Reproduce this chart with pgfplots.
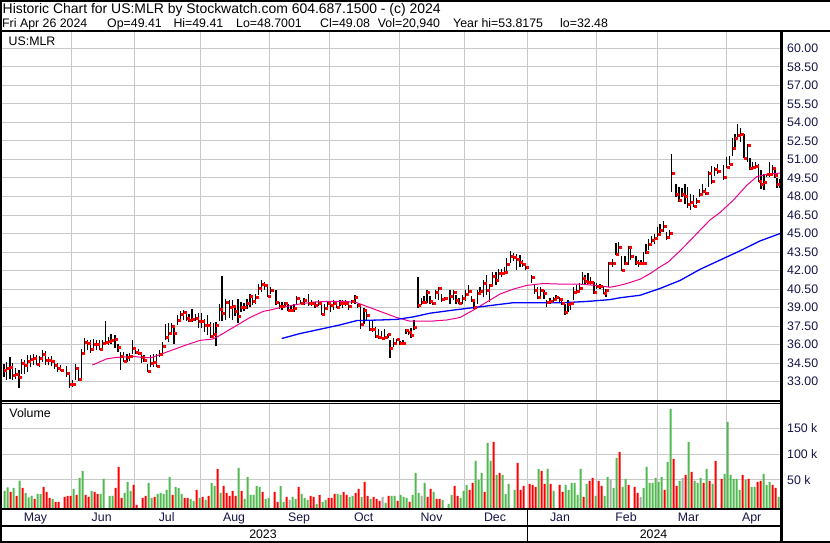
\documentclass[border=0pt]{standalone}
\usepackage{pgfplots}
\pgfplotsset{compat=1.18}
\usepackage{pgfplotstable}
\usepackage{fontspec}
\setmainfont{Liberation Sans}
\definecolor{gridc}{RGB}{200,200,200}
\definecolor{volg}{RGB}{80,185,80}
\definecolor{volr}{RGB}{255,0,0}
\definecolor{volgray}{RGB}{170,170,170}
\definecolor{tickc}{RGB}{20,20,70}
\newcommand\tf{\fontsize{12.4}{14}\selectfont}
\newcommand\hf{\fontsize{14}{16}\selectfont}

\pgfplotstableread{
x h l c
4.0 34.46 33.38 33.97
6.7 34.59 33.16 34.11
10.0 35.00 33.24 34.19
12.7 34.51 33.11 33.51
15.7 34.11 33.24 33.59
19.0 33.92 32.51 33.38
21.7 34.86 33.65 34.51
24.3 34.78 33.65 34.32
27.7 35.13 33.78 34.64
30.7 35.13 34.19 34.86
33.7 35.27 34.32 34.92
36.7 35.13 34.32 34.40
39.7 35.05 34.19 34.94
42.7 35.54 34.59 35.21
45.7 35.46 34.32 34.78
48.7 35.00 34.32 34.73
51.7 35.05 34.24 34.64
54.7 34.73 34.05 34.32
57.7 34.51 33.78 34.11
60.7 34.32 33.85 33.92
66.7 34.24 33.38 33.70
69.3 33.65 32.49 32.78
72.3 33.16 32.57 32.78
75.3 34.40 33.11 34.11
78.7 34.19 33.06 33.20
81.3 35.67 33.11 35.32
84.7 36.54 35.27 36.21
87.7 36.40 35.54 36.13
90.7 36.40 35.32 35.65
93.7 36.48 35.67 36.02
96.7 36.40 35.54 36.02
99.7 36.40 35.54 35.67
102.7 36.40 35.67 36.13
105.3 37.89 36.08 36.21
108.3 36.60 36.00 36.30
111.0 36.86 36.02 36.40
115.0 36.81 35.70 36.46
118.0 36.02 35.40 35.78
120.7 35.40 33.97 35.05
123.3 35.40 34.59 34.64
127.0 35.27 34.59 35.00
129.7 35.30 34.70 35.05
132.7 36.35 35.27 35.73
135.7 35.81 35.27 35.40
138.7 35.65 35.13 35.32
141.3 35.27 34.50 35.00
144.0 35.13 34.59 34.73
147.3 34.40 33.78 33.86
150.3 35.13 34.19 34.51
153.3 35.27 34.19 34.59
156.3 35.27 34.19 34.27
159.3 35.54 35.00 35.21
162.7 36.21 35.27 35.86
165.7 37.70 36.35 36.62
168.3 37.75 36.21 36.94
171.3 37.75 36.83 37.48
174.0 37.32 36.08 36.94
177.3 38.37 37.56 38.02
180.3 38.72 37.91 38.45
183.3 38.78 37.97 38.64
186.3 38.64 37.91 38.18
189.0 38.45 37.83 38.02
192.0 38.91 37.83 38.10
195.3 38.51 37.91 38.18
198.3 38.56 37.37 37.89
201.3 38.56 37.37 37.89
204.3 38.10 37.02 37.56
207.3 38.37 36.75 37.56
210.3 37.83 36.56 36.67
213.3 37.75 36.48 36.81
216.0 37.83 35.86 37.56
219.3 39.32 37.91 38.91
222.0 41.53 37.91 38.56
225.7 39.72 37.97 39.42
229.3 39.59 38.18 39.05
232.3 39.64 37.97 39.10
235.0 39.18 38.29 38.70
238.0 39.72 37.75 38.29
241.0 39.45 38.64 39.05
244.0 39.40 38.70 39.05
247.0 39.72 38.91 39.32
250.0 40.13 39.05 39.94
252.7 39.99 39.18 39.53
255.7 40.13 39.32 39.86
258.7 40.94 39.99 40.59
261.7 41.26 40.26 40.86
264.7 41.07 40.45 40.80
267.7 40.72 39.86 39.94
270.7 40.67 40.13 40.45
276.0 40.40 39.18 39.40
279.3 39.45 38.91 39.10
282.0 39.45 38.78 39.10
285.0 39.45 39.05 39.32
288.0 39.32 38.72 38.83
291.0 39.18 38.64 38.78
294.0 39.32 38.64 38.99
296.7 39.92 39.19 39.73
300.7 39.59 39.27 39.38
304.0 39.81 39.19 39.59
308.3 40.08 39.11 39.38
311.7 39.59 39.11 39.32
315.0 39.46 39.00 39.19
318.3 39.59 39.11 39.38
321.3 39.46 38.38 38.46
324.3 39.32 38.57 38.92
327.7 39.54 38.78 39.38
330.7 39.46 38.65 39.19
333.3 39.59 38.78 39.32
336.7 39.54 39.00 39.05
340.0 39.59 39.11 39.38
342.7 39.59 39.00 39.32
345.3 39.59 39.11 39.38
348.3 39.32 38.84 39.11
351.7 39.65 39.32 39.51
355.0 40.00 39.32 39.86
357.7 39.32 39.00 39.19
360.7 39.19 37.30 37.65
364.0 39.00 37.65 38.78
366.7 38.65 37.97 38.38
369.3 37.97 37.11 37.22
372.3 37.97 37.03 37.22
375.3 37.43 36.57 36.68
378.7 37.30 36.49 36.62
381.7 37.11 36.49 36.54
384.7 37.30 36.43 36.57
388.0 36.89 36.57 36.84
390.0 36.35 34.95 35.68
393.3 36.57 35.81 36.14
396.7 36.49 35.95 36.41
400.0 36.30 35.95 36.08
403.0 36.35 36.03 36.14
406.0 37.30 36.89 37.16
408.3 37.30 36.76 37.03
411.0 37.38 36.57 36.76
414.0 37.97 37.16 37.38
418.0 41.49 39.00 39.19
421.7 39.81 39.19 39.46
424.0 39.92 39.32 39.46
427.0 40.46 39.38 40.27
430.0 39.92 39.32 39.51
432.7 39.65 39.19 39.32
435.7 40.46 39.73 40.27
438.7 40.68 39.59 40.54
441.7 40.14 39.46 39.65
444.7 39.86 39.59 39.73
450.0 40.41 39.32 39.92
453.3 40.41 39.59 40.27
456.0 40.00 39.32 39.59
459.0 39.81 39.27 39.38
462.3 40.00 39.32 39.73
465.7 40.41 39.54 40.08
468.7 40.81 40.19 40.35
471.3 39.92 39.46 39.59
474.0 39.73 38.92 39.05
477.3 40.41 39.32 40.14
480.0 40.68 40.00 40.35
483.3 41.22 39.86 41.00
486.7 41.62 40.00 40.41
489.3 40.95 39.46 40.81
492.7 41.89 40.95 41.54
496.0 41.89 40.81 41.22
498.7 42.16 41.22 41.76
501.3 42.16 41.49 41.81
504.7 42.30 41.76 41.89
506.7 43.00 41.97 42.51
510.7 43.59 42.62 43.16
513.3 43.40 42.80 43.10
516.7 43.38 42.08 42.89
520.0 43.24 42.30 42.70
522.7 42.84 42.30 42.51
525.7 42.57 42.03 42.30
531.7 41.62 41.00 41.49
534.7 40.95 40.14 40.41
537.7 40.68 39.73 39.81
540.7 40.68 39.92 40.41
544.0 40.41 39.73 40.19
546.7 39.59 39.05 39.46
550.0 39.81 39.32 39.54
553.3 39.86 39.38 39.65
556.0 40.00 39.59 39.86
559.3 39.90 39.40 39.70
561.7 39.65 39.19 39.32
565.0 39.32 38.38 38.65
568.0 39.59 38.65 39.27
570.7 39.46 38.78 39.32
573.7 40.68 39.59 40.27
576.7 40.81 40.19 40.35
579.3 41.00 40.27 40.54
582.3 41.89 40.95 41.35
585.0 41.62 40.81 41.16
588.0 41.81 40.89 41.08
590.7 41.49 40.81 41.08
594.0 41.08 40.14 40.27
596.7 41.00 40.54 40.76
600.0 40.95 40.54 40.73
603.3 40.68 40.08 40.19
606.0 40.54 39.86 40.41
608.3 42.70 40.68 42.62
612.7 42.97 42.30 42.57
616.0 44.24 43.24 43.32
618.3 44.32 43.24 43.92
621.7 43.16 41.97 42.03
625.0 43.16 42.43 42.62
628.3 43.97 42.43 43.92
630.7 43.92 42.84 43.16
636.0 43.16 42.43 42.70
638.3 42.84 42.30 42.57
641.0 42.84 42.43 42.62
643.3 43.51 42.43 42.62
646.0 44.19 43.38 43.51
648.7 44.59 43.65 44.14
651.7 44.78 44.05 44.46
654.3 45.00 44.19 44.59
657.3 45.49 44.59 44.95
660.0 45.76 45.00 45.27
663.3 46.05 45.14 45.59
666.7 45.14 44.46 44.68
669.3 45.32 44.59 45.05
671.7 51.43 48.38 49.92
676.0 49.00 47.97 48.16
679.0 48.73 47.57 47.70
682.0 48.65 47.97 48.16
685.0 49.00 47.43 48.05
687.7 48.78 47.03 47.38
690.7 48.24 46.89 47.57
693.7 48.11 47.16 47.24
696.7 47.84 47.43 47.65
699.7 48.57 47.97 48.19
702.7 49.05 48.24 48.43
705.3 48.65 48.11 48.30
708.3 50.08 48.78 49.92
711.7 50.46 49.00 49.27
714.3 50.41 49.65 50.19
717.3 50.62 49.86 50.08
723.3 50.54 49.32 49.59
726.7 51.22 50.27 50.41
729.3 51.27 50.54 50.62
732.3 52.70 51.27 51.89
735.0 53.05 51.89 52.76
737.7 53.84 52.57 52.97
740.7 53.57 52.43 53.05
744.0 53.05 51.08 51.14
747.3 52.24 50.81 52.16
750.0 51.08 50.14 50.27
752.7 50.81 50.14 50.41
755.3 50.81 50.19 50.46
758.3 50.62 49.19 49.27
761.0 50.14 48.57 49.00
764.0 49.86 48.51 49.19
766.3 49.85 49.59 49.81
769.3 50.81 49.59 49.78
772.3 50.54 49.65 50.27
775.0 50.14 49.46 49.73
777.0 49.46 48.65 49.00
780.0 49.41 48.70 49.08
}\pricedata

\pgfplotstableread{
x v
4.7 28.7
7.7 35.8
13.7 34.5
19.7 48.7
25.7 24.8
28.7 16.5
31.7 19.0
37.7 22.9
40.7 22.9
52.7 13.2
73.7 32.6
79.7 53.9
82.7 67.4
91.7 28.7
100.7 22.9
103.7 51.9
109.7 19.0
112.7 19.0
124.7 24.8
127.7 46.1
130.7 28.7
148.7 44.2
151.7 15.2
157.7 22.9
160.7 24.8
163.7 22.9
166.7 30.6
169.7 55.8
175.7 36.5
178.7 34.5
181.7 22.9
190.7 13.2
193.7 9.4
199.7 15.2
205.7 11.3
211.7 44.2
214.7 38.4
220.7 24.8
238.7 73.2
244.7 13.2
247.7 55.8
250.7 21.0
253.7 21.0
256.7 38.4
259.7 36.5
265.7 13.2
268.7 15.2
280.7 38.4
283.7 7.4
292.7 17.1
295.7 13.2
301.7 22.9
304.7 15.2
307.7 11.3
316.7 3.5
322.7 7.4
325.7 11.3
337.7 22.9
340.7 21.0
349.7 17.1
352.7 19.0
361.7 17.1
370.7 13.2
385.7 5.5
391.7 19.0
394.7 19.0
400.7 21.0
403.7 17.1
406.7 15.2
412.7 21.0
415.7 63.5
418.7 24.8
424.7 44.2
433.7 26.8
442.7 11.3
448.7 3.5
451.7 21.0
460.7 15.2
463.7 28.7
466.7 40.3
475.7 86.8
478.7 50.0
481.7 63.5
487.7 121.6
490.7 86.8
496.7 59.7
502.7 59.7
505.7 22.9
508.7 42.3
514.7 30.6
538.7 71.3
547.7 71.3
553.7 28.7
565.7 40.3
568.7 30.6
571.7 44.2
574.7 44.2
577.7 21.0
580.7 71.3
586.7 42.3
595.7 19.0
604.7 19.0
607.7 55.8
613.7 34.5
616.7 92.6
622.7 36.5
625.7 51.9
643.7 34.5
646.7 75.2
649.7 44.2
652.7 44.2
655.7 53.9
658.7 46.1
661.7 55.8
667.7 84.8
670.7 187.4
679.7 48.1
688.7 123.5
694.7 48.1
697.7 44.2
700.7 53.9
706.7 71.3
712.7 42.3
724.7 61.6
727.7 162.3
730.7 59.7
733.7 51.9
736.7 51.9
739.7 30.6
745.7 50.0
751.7 36.5
754.7 36.5
763.7 61.6
766.7 40.3
769.7 46.1
778.7 17.1
}\volgreen

\pgfplotstableread{
x v
10.7 26.8
16.7 19.0
22.7 34.5
34.7 13.2
43.7 36.5
46.7 26.8
49.7 15.2
55.7 7.4
58.7 7.4
64.7 17.1
67.7 19.0
70.7 19.0
76.7 21.0
85.7 21.0
88.7 17.1
94.7 26.8
97.7 22.9
115.7 34.5
118.7 75.2
121.7 15.2
133.7 40.3
136.7 1.6
142.7 15.2
145.7 19.0
154.7 17.1
172.7 21.0
184.7 15.2
187.7 15.2
196.7 30.6
202.7 17.1
208.7 19.0
217.7 71.3
223.7 38.4
226.7 24.8
229.7 19.0
232.7 28.7
235.7 19.0
241.7 28.7
262.7 26.8
274.7 26.8
277.7 7.4
286.7 17.1
298.7 36.5
310.7 19.0
313.7 17.1
319.7 21.0
328.7 15.2
331.7 15.2
334.7 22.9
343.7 26.8
346.7 21.0
355.7 24.8
358.7 32.6
364.7 46.1
367.7 19.0
373.7 17.1
376.7 13.2
379.7 9.4
388.7 19.0
397.7 9.4
409.7 7.4
427.7 17.1
430.7 32.6
436.7 13.2
439.7 13.2
454.7 38.4
457.7 19.0
469.7 30.6
472.7 44.2
484.7 26.8
493.7 123.5
499.7 63.5
517.7 82.9
520.7 30.6
523.7 38.4
529.7 42.3
532.7 40.3
535.7 36.5
541.7 67.4
544.7 42.3
550.7 42.3
559.7 40.3
562.7 26.8
583.7 17.1
589.7 48.1
592.7 53.9
598.7 48.1
601.7 38.4
619.7 104.2
628.7 40.3
634.7 36.5
637.7 24.8
664.7 30.6
673.7 90.6
676.7 38.4
685.7 59.7
691.7 65.5
703.7 44.2
709.7 48.1
715.7 86.8
721.7 51.9
742.7 59.7
748.7 51.9
757.7 46.1
760.7 48.1
772.7 40.3
775.7 34.5
}\volred

\pgfplotstableread{
x v
289.7 11.3
382.7 17.1
421.7 19.0
610.7 50.0
640.7 17.1
682.7 53.9
}\volgray

\begin{document}
\begin{tikzpicture}
\pgfplotsset{
  common/.style={
    scale only axis, anchor=south west,
    width=779.5bp, xmin=2, xmax=781.5,
    axis line style={draw=none},
    xtick={71.7,134,200,269,329,399,464.3,527.7,596,657.7,726},
    xticklabels={},
    yticklabel pos=right,
    yticklabel style={anchor=west, inner sep=0pt, xshift=5.5bp, font=\tf, text=tickc},
    major tick length=0pt,
    grid=major, grid style={gridc, line width=1bp},
  }
}
% price panel
\begin{axis}[common, at={(2bp,142bp)}, height=369bp,
  ymin=31.44, ymax=61.32,
  ytick={33,34.5,36,37.5,39,40.5,42,43.5,45,46.5,48,49.5,51,52.5,54,55.5,57,58.5,60},
  yticklabel={\pgfmathprintnumber[fixed,fixed zerofill,precision=2,assume math mode=true]{\tick}},
]
\addplot[black, draw=none, mark=none,
  error bars/.cd, y dir=plus, y explicit, error mark=none,
  error bar style={draw=black, solid, line width=1.1bp}]
  table[x=x, y=l, y error plus expr=\thisrow{h}-\thisrow{l}] {\pricedata};
\addplot[only marks, mark=square*, mark size=1bp, red, mark options={draw=none, fill=red}, xshift=1.5bp]
  table[x=x, y=c] {\pricedata};
\addplot[magenta, line width=1bp] coordinates {
(92.3,34.35) (106.7,34.85) (115,34.96) (133.3,35.05) (143.3,34.96) (151.7,34.96)
(160,35.2) (173.3,35.6) (186.7,35.99) (200,36.35) (212.3,36.45) (216.7,36.6)
(233.3,37.4) (250,38.2) (263.3,38.7) (270,38.8) (280,39.0) (300,39.3)
(313.3,39.45) (326.7,39.5) (346.7,39.5) (356.7,39.4) (366.7,39.1) (380,38.7)
(396.7,38.2) (410,37.9) (430,37.9) (446.7,38.0) (460,38.2) (473.3,38.8)
(486.7,39.45) (500,40.1) (513.3,40.5) (526.7,40.8) (543.3,40.95) (563.3,40.9)
(580,40.9) (596.7,40.8) (610,40.65) (616.7,40.75) (626.7,40.95) (640,41.3)
(650,41.75) (660,42.3) (668.3,42.7) (680,43.6) (693.3,44.7) (700,45.27)
(710,46.1) (720,46.7) (733.3,47.7) (746.7,48.9) (756.7,49.6) (766.7,49.8) (780,49.9)
};
\addplot[blue, line width=1.3bp] coordinates {
(281.7,36.5) (300,36.9) (320,37.25) (340,37.6) (356.7,37.95) (380,38.0)
(396.7,38.05) (413.3,38.25) (430,38.55) (453.3,38.8) (473.3,39.0) (493.3,39.2)
(513.3,39.4) (533.3,39.4) (563.3,39.4) (586.7,39.5) (610,39.65) (620,39.8)
(640,40.0) (660,40.55) (680,41.2) (700,42.1) (720,42.85) (740,43.6) (760,44.4) (780,45.0)
};
\end{axis}
% volume panel
\begin{axis}[common, at={(2bp,34bp)}, height=105.3bp,
  ymin=0, ymax=203.7,
  ytick={56.2,106.2,156.2}, yticklabels={50 k,100 k,150 k},
]
\addplot[ybar, bar width=2bp, bar shift=0pt, fill=volg, draw=none] table[x=x, y expr=\thisrow{v}+6.2] {\volgreen};
\addplot[ybar, bar width=2bp, bar shift=0pt, fill=volr, draw=none] table[x=x, y expr=\thisrow{v}+6.2] {\volred};
\addplot[ybar, bar width=2bp, bar shift=0pt, fill=volgray, draw=none] table[x=x, y expr=\thisrow{v}+6.2] {\volgray};
\end{axis}
% frame
\draw[line width=2bp] (0bp,542bp) -- (830bp,542bp);
\draw[line width=2bp] (0bp,512bp) -- (830bp,512bp);
\draw[line width=2bp] (1bp,0bp) -- (1bp,543bp);
\draw[line width=2.5bp] (781.4bp,0bp) -- (781.4bp,512bp);
\draw[line width=1.2bp] (0bp,142bp) -- (781.4bp,142bp);
\draw[line width=1bp] (0bp,139.7bp) -- (781.4bp,139.7bp);
\draw[line width=2bp] (0bp,34bp) -- (781.4bp,34bp);
\draw[line width=2bp] (0bp,16.5bp) -- (781.4bp,16.5bp);
\draw[line width=2bp] (0bp,1bp) -- (830bp,1bp);
\draw[line width=1.5bp] (527.7bp,1bp) -- (527.7bp,34bp);
% header
\node[anchor=base west, inner sep=0pt, font=\hf] at (2.5bp,529bp) {Historic Chart for US:MLR by Stockwatch.com 604.687.1500 - (c) 2024};
\node[anchor=base west, inner sep=0pt, font=\tf] at (2bp,515.7bp) {Fri Apr 26 2024};
\node[anchor=base west, inner sep=0pt, font=\tf] at (107bp,515.7bp) {Op=49.41};
\node[anchor=base west, inner sep=0pt, font=\tf] at (173.3bp,515.7bp) {Hi=49.41};
\node[anchor=base west, inner sep=0pt, font=\tf] at (236bp,515.7bp) {Lo=48.7001};
\node[anchor=base west, inner sep=0pt, font=\tf] at (320bp,515.7bp) {Cl=49.08};
\node[anchor=base west, inner sep=0pt, font=\tf] at (377.7bp,515.7bp) {Vol=20,940};
\node[anchor=base west, inner sep=0pt, font=\tf] at (453bp,515.7bp) {Year hi=53.8175};
\node[anchor=base west, inner sep=0pt, font=\tf] at (560bp,515.7bp) {lo=32.48};
\node[anchor=base west, inner sep=0pt, font=\tf] at (8.5bp,497bp) {US:MLR};
\node[anchor=base west, inner sep=0pt, font=\tf] at (9.3bp,125.7bp) {Volume};
% months
\foreach \xx/\mm in {35.5/May,101.7/Jun,166.7/Jul,234/Aug,299/Sep,363.7/Oct,431.5/Nov,495/Dec,560/Jan,626/Feb,688.5/Mar,751.7/Apr}
  \node[anchor=base, inner sep=0pt, font=\tf, text=tickc] at (\xx bp,21.5bp) {\mm};
\node[anchor=base, inner sep=0pt, font=\tf] at (263bp,4.5bp) {2023};
\node[anchor=base, inner sep=0pt, font=\tf] at (653.5bp,4.5bp) {2024};
\pgfresetboundingbox
\useasboundingbox (0bp,0bp) rectangle (830bp,543bp);
\end{tikzpicture}
\end{document}
